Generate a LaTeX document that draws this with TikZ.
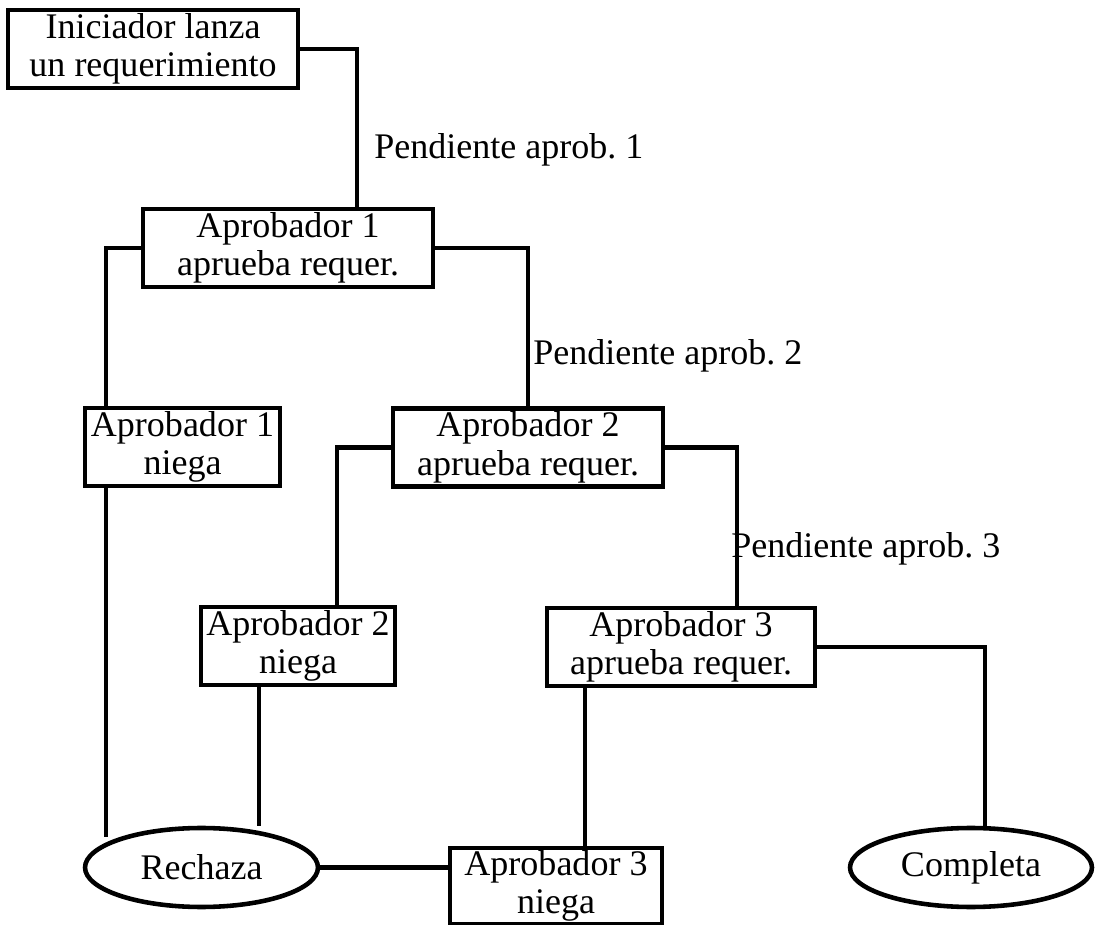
\documentclass[tikz,border=0pt]{standalone}
\usepackage{fontspec}
\setmainfont{Liberation Serif}
\usepackage{tikz}
\usetikzlibrary{shapes.geometric,positioning}

\begin{document}
\frenchspacing
\begin{tikzpicture}[
    x=0.02cm, y=-0.02cm,
    line width=2.6pt,
    every node/.style={font=\fontsize{20.5}{22}\selectfont, inner sep=0pt},
    box/.style={draw, rectangle, align=center, minimum height=1.56cm},
    oval/.style={draw, ellipse, minimum height=1.58cm},
    lbl/.style={anchor=west}
]
\useasboundingbox (0,0) rectangle (1096,925);

% estados
\node[box, minimum width=5.8cm] (ini) at (153,49) {Iniciador lanza\\un requerimiento};
\node[box, minimum width=5.8cm] (ap1) at (288,248) {Aprobador 1\\aprueba requer.};
\node[box, minimum width=3.9cm] (ng1) at (182.5,447) {Aprobador 1\\niega};
\node[box, minimum width=5.4cm] (ap2) at (528,447.5) {Aprobador 2\\aprueba requer.};
\node[box, minimum width=3.88cm] (ng2) at (298,646) {Aprobador 2\\niega};
\node[box, minimum width=5.36cm] (ap3) at (681,647) {Aprobador 3\\aprueba requer.};
\node[box, minimum width=4.24cm, minimum height=1.52cm] (ng3) at (556,886) {Aprobador 3\\niega};
\node[oval, minimum width=4.66cm] (rech) at (201.5,867.5) {Rechaza};
\node[oval, minimum width=4.84cm] (comp) at (971,867.5) {Completa};

% transiciones
\draw (ini.east) -| node[lbl, pos=.82, xshift=.3cm] {Pendiente aprob. 1} ([xshift=1.38cm]ap1.north);
\draw (ap1.west) -| ([xshift=-1.53cm]ng1.north);
\draw (ap1.east) -| node[lbl, pos=.84, xshift=.06cm] {Pendiente aprob. 2} (ap2.north);
\draw (ap2.west) -| ([xshift=.78cm]ng2.north);
\draw (ap2.east) -| node[lbl, pos=.82, xshift=-.16cm] {Pendiente aprob. 3} ([xshift=1.12cm]ap3.north);
\draw (ap3.east) -| ([xshift=.28cm]comp.north);

\coordinate (s1) at ([xshift=-1.53cm]ng1.south);
\coordinate (s2) at ([xshift=-.78cm]ng2.south);
\coordinate (s3) at ([xshift=-1.92cm]ap3.south);
\draw (s1) -- (s1 |- rech.160);
\draw (s2) -- (s2 |- rech.north);
\draw (s3) -- (s3 |- ng3.north);
\draw (rech.east) -- (rech.east -| ng3.west);
\end{tikzpicture}
\end{document}
